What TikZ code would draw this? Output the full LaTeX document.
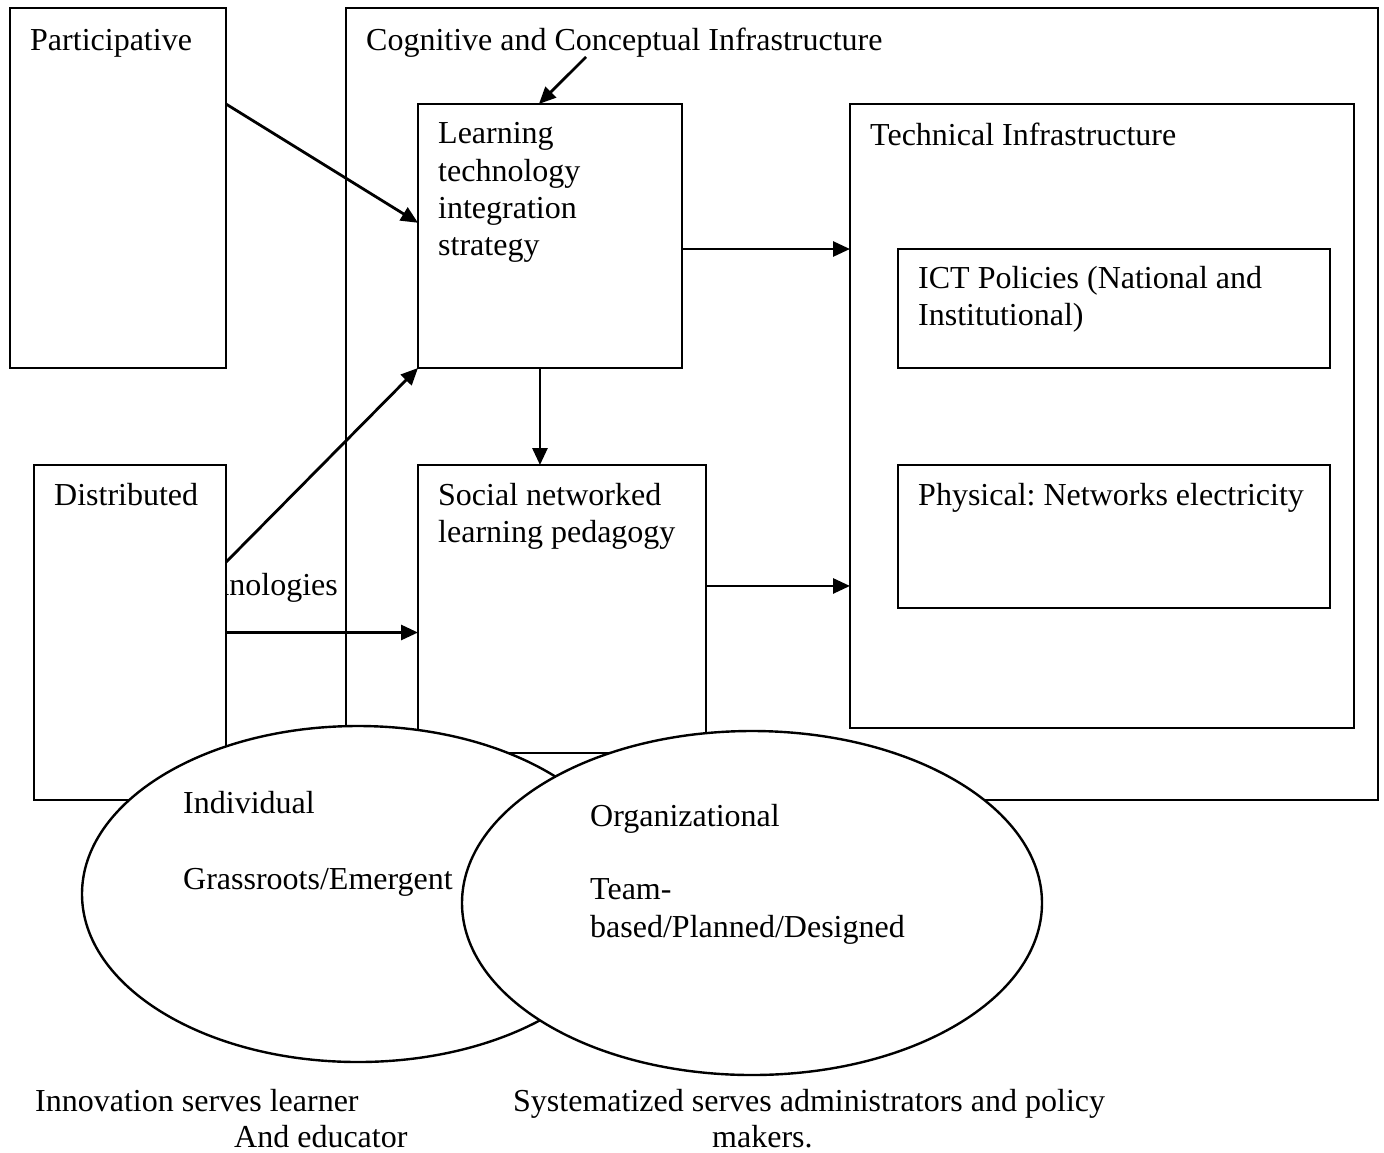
\documentclass[tikz,border=0pt]{standalone}
\usepackage{fontspec}
\setmainfont{Liberation Serif}
\frenchspacing
\usetikzlibrary{arrows.meta,calc,shapes.geometric}
\begin{document}
\begin{tikzpicture}[x=1pt,y=-1pt,
  box/.style={draw, line width=2.6pt, fill=white, rectangle, inner sep=0pt, outer sep=0pt, anchor=north west},
  oval/.style={draw, line width=2.4pt, fill=white, ellipse, inner sep=0pt, outer sep=0pt},
  lbl/.style={anchor=base west, inner sep=0pt, font=\fontsize{32pt}{37.5pt}\selectfont},
  arr/.style={line width=2.8pt, -{Triangle[length=17pt,width=15pt]}}]
\useasboundingbox (0,0) rectangle (1384,1152);

% outer frame and partly hidden label
\node[box, minimum width=1032pt, minimum height=792pt] (cog) at (346,8) {};
\node[lbl, anchor=base east] (techno) at (338,595) {Technologies};

% boxes
\node[box, minimum width=216pt, minimum height=360pt] (part) at (10,8) {};
\node[box, minimum width=192pt, minimum height=335pt] (dist) at (34,465) {};
\node[box, minimum width=264pt, minimum height=264pt] (learn) at (418,104) {};
\node[box, minimum width=504pt, minimum height=624pt] (tech) at (850,104) {};
\node[box, minimum width=432pt, minimum height=119pt] (ict) at (898,249) {};
\node[box, minimum width=288pt, minimum height=288pt] (social) at (418,465) {};
\node[box, minimum width=432pt, minimum height=143pt] (phys) at (898,465) {};

% box labels
\node[lbl] (tpart) at (30,50) {Participative};
\node[lbl] (tcog) at (366,50) {Cognitive and Conceptual Infrastructure};
\node[lbl] (tl1) at (438,143) {Learning};
\node[lbl] (tl2) at (438,181) {technology};
\node[lbl] (tl3) at (438,218) {integration};
\node[lbl] (tl4) at (438,255) {strategy};
\node[lbl] (ttech) at (870,145) {Technical Infrastructure};
\node[lbl] (ti1) at (918,288) {ICT Policies (National and};
\node[lbl] (ti2) at (918,325) {Institutional)};
\node[lbl] (tdist) at (54,505) {Distributed};
\node[lbl] (ts1) at (438,505) {Social networked};
\node[lbl] (ts2) at (438,542) {learning pedagogy};
\node[lbl] (tphys) at (918,505) {Physical: Networks electricity};

% connectors
\coordinate (cogtip) at (586,57);
\draw[arr] (cogtip) -- ($(learn.north west)!0.458!(learn.north east)$);
\draw[arr] (part.east |- learn.north) -- ($(learn.north west)!0.45!(learn.south west)$);
\draw[arr] ($(dist.north east)!0.29!(dist.south east)$) -- (learn.south west);
\draw[arr] (dist.east) -- (dist.east -| social.west);
\coordinate (ls) at ($(learn.south west)!0.462!(learn.south east)$);
\draw[arr] (ls) -- (ls |- social.north);
\draw[arr] (learn.east |- ict.north) -- (tech.west |- ict.north);
\coordinate (so) at ($(social.north east)!0.42!(social.south east)$);
\draw[arr] (so) -- (so -| tech.west);

% ellipses
\node[oval, minimum width=552pt, minimum height=336pt] (ind) at (358,894) {};
\node[oval, minimum width=580pt, minimum height=344pt] (org) at (752,903) {};
\node[lbl] (te1) at (183,813) {Individual};
\node[lbl] (te2) at (183,889) {Grassroots/Emergent};
\node[lbl] (to1) at (590,826) {Organizational};
\node[lbl] (to2) at (590,899) {Team-};
\node[lbl] (to3) at (590,937) {based/Planned/Designed};

% bottom captions
\node[lbl] (b1) at (35,1111) {Innovation serves learner};
\node[lbl] (b2) at (234,1147) {And educator};
\node[lbl] (b3) at (513,1111) {Systematized serves administrators and policy};
\node[lbl] (b4) at (712,1147) {makers.};
\end{tikzpicture}
\end{document}
